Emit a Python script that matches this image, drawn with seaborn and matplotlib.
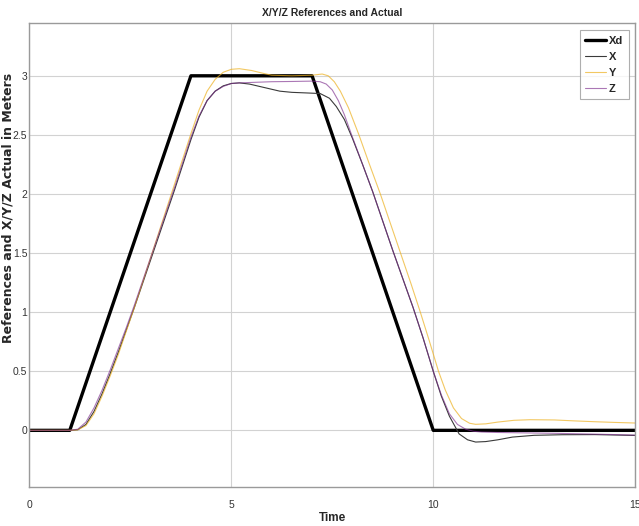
import numpy as np
import pandas as pd
import matplotlib
matplotlib.use("Agg")
import matplotlib.pyplot as plt
import seaborn as sns

# reference trajectory
t_xd = [0, 1, 4, 7, 10, 15]
xd = [0, 0, 3, 3, 0, 0]

# actual X
t_x = [0, 1.0, 1.2, 1.4, 1.6, 1.8, 2.0, 2.2, 2.4, 2.6, 2.8, 3.0, 3.2, 3.4, 3.6, 3.8, 4.0,
       4.2, 4.4, 4.6, 4.8, 5.0, 5.2, 5.45, 5.7, 5.95, 6.2, 6.5, 6.86, 7.2, 7.43, 7.6, 7.8,
       8.0, 8.25, 8.5, 8.75, 9.0, 9.25, 9.5, 9.75, 10.0, 10.2, 10.4, 10.64, 10.85, 11.05,
       11.3, 11.6, 11.96, 12.5, 13.2, 14.0, 15.0]
x_act = [0, 0, 0.005, 0.05, 0.16, 0.31, 0.48, 0.66, 0.85, 1.04, 1.24, 1.44, 1.64, 1.84,
         2.04, 2.25, 2.46, 2.65, 2.79, 2.87, 2.915, 2.935, 2.94, 2.93, 2.91, 2.89, 2.87,
         2.86, 2.855, 2.85, 2.81, 2.74, 2.63, 2.47, 2.25, 2.02, 1.77, 1.52, 1.28, 1.04,
         0.78, 0.5, 0.29, 0.12, -0.03, -0.08, -0.099, -0.095, -0.08, -0.057, -0.042,
         -0.037, -0.036, -0.043]

# actual Y
t_y = [0, 1.0, 1.2, 1.4, 1.6, 1.8, 2.0, 2.2, 2.4, 2.6, 2.8, 3.0, 3.2, 3.4, 3.6, 3.8, 4.0,
       4.2, 4.4, 4.6, 4.8, 5.0, 5.2, 5.5, 5.8, 6.0, 6.5, 7.0, 7.25, 7.4, 7.55, 7.7, 7.9,
       8.16, 8.4, 8.69, 8.95, 9.19, 9.45, 9.68, 9.9, 10.13, 10.3, 10.5, 10.7, 10.9, 11.05,
       11.3, 11.6, 12.0, 12.4, 13.0, 13.5, 14.0, 14.5, 15.0]
y_act = [0, 0, 0.005, 0.04, 0.14, 0.29, 0.46, 0.64, 0.84, 1.04, 1.25, 1.46, 1.67, 1.88,
         2.09, 2.3, 2.51, 2.71, 2.87, 2.97, 3.03, 3.055, 3.06, 3.045, 3.02, 3.005, 3.0,
         3.005, 3.015, 3.0, 2.95, 2.87, 2.73, 2.5, 2.27, 2.0, 1.74, 1.5, 1.24, 1.0, 0.76,
         0.5, 0.34, 0.19, 0.1, 0.06, 0.051, 0.055, 0.07, 0.085, 0.09, 0.088, 0.08, 0.073,
         0.067, 0.062]

# actual Z
t_z = [0, 1.0, 1.2, 1.4, 1.6, 1.8, 2.0, 2.2, 2.4, 2.6, 2.8, 3.0, 3.2, 3.4, 3.6, 3.8, 4.0,
       4.2, 4.4, 4.6, 4.8, 5.0, 5.2, 5.6, 6.0, 6.5, 7.0, 7.2, 7.35, 7.5, 7.65, 7.8, 8.0,
       8.25, 8.5, 8.75, 9.0, 9.25, 9.5, 9.75, 10.0, 10.2, 10.4, 10.6, 10.8, 11.0, 11.2,
       11.6, 12.0, 13.0, 14.0, 15.0]
z_act = [0, 0, 0.01, 0.07, 0.19, 0.34, 0.51, 0.69, 0.87, 1.06, 1.26, 1.46, 1.66, 1.86,
         2.06, 2.27, 2.48, 2.66, 2.79, 2.87, 2.91, 2.935, 2.94, 2.945, 2.95, 2.952, 2.955,
         2.95, 2.93, 2.88, 2.79, 2.67, 2.48, 2.25, 2.02, 1.77, 1.52, 1.28, 1.04, 0.78, 0.5,
         0.3, 0.14, 0.05, 0.01, -0.008, -0.014, -0.018, -0.02, -0.025, -0.032, -0.04]

x_ticks = [0, 5, 10, 15]
y_ticks = [0, 0.5, 1, 1.5, 2, 2.5, 3]
y_tick_labels = ["0", "0.5", "1", "1.5", "2", "2.5", "3"]

sns.set_theme(style="whitegrid")
narrow = ["Liberation Sans Narrow", "Liberation Sans", "DejaVu Sans"]
plt.rcParams["font.family"] = ["Liberation Sans", "DejaVu Sans"]

fig = plt.figure(figsize=(6.39, 5.26), dpi=100)
ax = fig.add_axes([0.046, 0.074, 0.948, 0.883])

series = [
    ("Xd", t_xd, xd, "black", 2.4, 1.0),
    ("X", t_x, x_act, "#3a3a3a", 0.8, 1.0),
    ("Y", t_y, y_act, "#EDB120", 0.8, 0.7),
    ("Z", t_z, z_act, "#7E2F8E", 0.8, 0.65),
]
for name, tt, vv, col, lw, a in series:
    df = pd.DataFrame({"t": tt, "v": vv})
    sns.lineplot(data=df, x="t", y="v", ax=ax, color=col, linewidth=lw, alpha=a,
                 label=name, estimator=None, sort=False)

ax.set_xlim(0, 15)
ax.set_ylim(-0.48, 3.45)
ax.set_xticks(x_ticks)
ax.set_xticklabels([str(v) for v in x_ticks], family=narrow, fontsize=7.5)
ax.set_yticks(y_ticks)
ax.set_yticklabels(y_tick_labels, family=narrow, fontsize=7.5)
ax.tick_params(axis="both", length=0, colors="#333333")
ax.tick_params(axis="x", pad=9)
ax.tick_params(axis="y", pad=1.5)
ax.grid(True, color="#d2d2d2", linewidth=0.8)
for s in ax.spines.values():
    s.set_color("#9a9a9a")
    s.set_linewidth(1.0)

ax.set_title("X/Y/Z References and Actual", family=narrow, fontsize=7.5,
             fontweight="bold", pad=5)
ax.set_xlabel("Time", family=narrow, fontsize=8.5, fontweight="bold", labelpad=2)
ax.set_ylabel("References and X/Y/Z Actual in Meters", family="DejaVu Sans",
              fontsize=9, fontweight="bold")
ax.yaxis.set_label_coords(-0.025, 0.60)

leg = ax.legend(loc="upper right", frameon=True, fancybox=False,
                handlelength=1.9, handletextpad=0.2, borderpad=0.5,
                labelspacing=0.55, borderaxespad=0, bbox_to_anchor=(0.989, 0.984),
                prop={"family": narrow, "weight": "bold", "size": 8})
leg.get_frame().set_edgecolor("#9a9a9a")
leg.get_frame().set_linewidth(0.8)

fig.savefig("out.png", dpi=100)
